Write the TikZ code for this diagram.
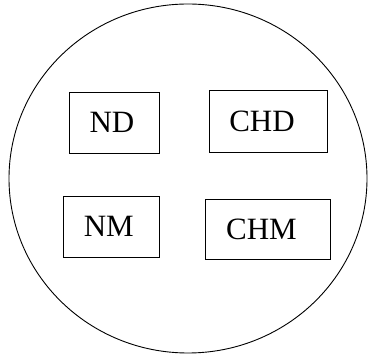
\documentclass[tikz,border=0pt]{standalone}
\usepackage{fontspec}
\setmainfont{Liberation Serif}
\begin{document}
\begin{tikzpicture}[x=1pt,y=-1pt,
  box/.style={draw,line width=1pt,inner sep=0pt,anchor=north west},
  lbl/.style={font=\fontsize{31}{31}\selectfont,inner sep=0pt}]
\useasboundingbox (0,0) rectangle (370,358);
\draw[line width=0.9pt] (188,178.5) ellipse [x radius=179,y radius=174.5];
\node[box,minimum width=90pt,minimum height=61pt] (nd) at (69,92) {};
\node[box,minimum width=118pt,minimum height=62pt] (chd) at (209,90) {};
\node[box,minimum width=96pt,minimum height=61pt] (nm) at (63,196) {};
\node[box,minimum width=125pt,minimum height=60pt] (chm) at (205,199) {};
\node[lbl] (tnd) at (112,122.5) {ND};
\node[lbl] (tchd) at (262,121.3) {CHD};
\node[lbl] (tnm) at (108.8,226) {NM};
\node[lbl] (tchm) at (261.5,229) {CHM};
\end{tikzpicture}
\end{document}
